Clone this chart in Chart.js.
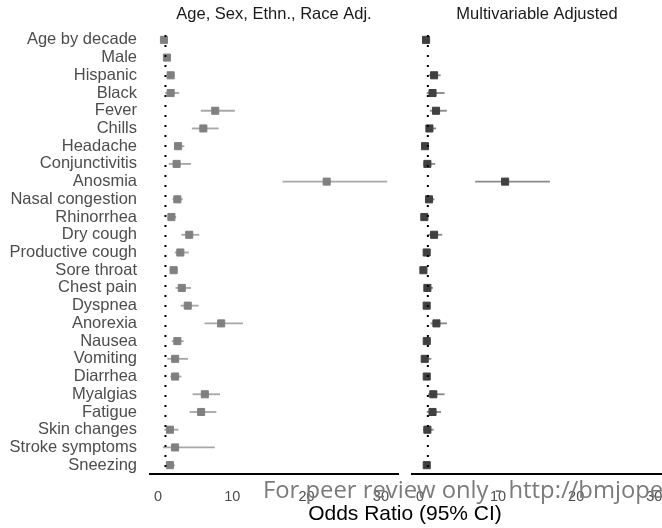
<!DOCTYPE html>
<html>
<head>
<meta charset="utf-8">
<script src="https://cdn.jsdelivr.net/npm/chart.js@4.4.1/dist/chart.umd.min.js"></script>
<style>
    body { margin: 0; background: #fff; }
    #wrap { position: relative; width: 662px; height: 528px; overflow: hidden; font-family: "Liberation Sans", Arial, sans-serif; }
    #left { position: absolute; left: 0; top: 0; }
    #right { position: absolute; left: 400px; top: 0; }
    #xtitle { position: absolute; left: 205px; top: 501px; width: 400px; text-align: center; font-size: 21px; line-height: 24px; color: #000; }
    #mark { position: absolute; left: 263px; top: 473px; white-space: nowrap; font-family: "Open Sans", sans-serif; font-size: 23.8px; line-height: 32px; color: #7b7b7b; }
</style>
</head>
<body>
<div id="wrap">
    <canvas id="left" width="400" height="528"></canvas>
    <canvas id="right" width="262" height="528"></canvas>
    <div id="xtitle">Odds Ratio (95% CI)</div>
    <div id="mark">For peer review only - http://bmjopen.bmj.com/site/about/guidelines.xhtml</div>
</div>
<script>
const symptoms = ['Age by decade', 'Male', 'Hispanic', 'Black', 'Fever', 'Chills', 'Headache',
    'Conjunctivitis', 'Anosmia', 'Nasal congestion', 'Rhinorrhea', 'Dry cough', 'Productive cough',
    'Sore throat', 'Chest pain', 'Dyspnea', 'Anorexia', 'Nausea', 'Vomiting', 'Diarrhea',
    'Myalgias', 'Fatigue', 'Skin changes', 'Stroke symptoms', 'Sneezing'];

// Age, Sex, Ethn., Race adjusted
const demoOR   = [0.8, 1.2, 1.7, 1.7, 7.7, 6.1, 2.7, 2.5, 22.7, 2.6, 1.8, 4.2, 3.0, 2.1, 3.2, 4.0, 8.5, 2.6, 2.3, 2.3, 6.3, 5.8, 1.6, 2.3, 1.6];
const demoLow  = [0.7, 1.0, 1.3, 1.0, 5.8, 4.6, 2.2, 1.5, 16.8, 2.0, 1.4, 3.2, 2.3, 1.6, 2.4, 3.1, 6.3, 1.9, 1.3, 1.7, 4.7, 4.3, 0.9, 0.7, 1.3];
const demoHigh = [0.9, 1.5, 2.2, 2.8, 10.3, 8.1, 3.5, 4.4, 30.8, 3.3, 2.4, 5.5, 4.1, 2.6, 4.4, 5.4, 11.4, 3.4, 4.0, 3.1, 8.3, 7.8, 2.7, 7.6, 2.2];

// Multivariable adjusted (Male and Stroke symptoms not in model)
const multiOR   = [0.77, null, 1.8, 1.6, 2.05, 1.2, 0.64, 0.94, 10.9, 1.15, 0.55, 1.8, 0.85, 0.43, 0.94, 0.85, 2.1, 0.86, 0.6, 0.86, 1.7, 1.6, 0.94, null, 0.86];
const multiLow  = [0.65, null, 1.2, 0.9, 1.3, 0.8, 0.5, 0.45, 7.1, 0.8, 0.4, 1.0, 0.65, 0.3, 0.6, 0.6, 1.4, 0.6, 0.3, 0.6, 1.07, 0.9, 0.43, null, 0.6];
const multiHigh = [0.9, null, 2.6, 3.1, 3.4, 2.0, 0.8, 1.9, 16.6, 1.8, 0.7, 2.8, 1.1, 0.6, 1.6, 1.2, 3.4, 1.2, 1.4, 1.2, 3.1, 2.65, 1.7, null, 1.2];

const xTicks = [0, 10, 20, 30];
const REF_VALUE = 1;

const FONT = '"Liberation Sans", Arial, sans-serif';

// dotted line at OR = 1
const refLine = {
    id: 'refLine',
    afterDatasetsDraw(chart) {
        const { ctx, chartArea } = chart;
        const x = chart.scales.x.getPixelForValue(REF_VALUE);
        ctx.save();
        ctx.strokeStyle = '#000';
        ctx.lineWidth = 2;
        ctx.setLineDash([2, 8]);
        ctx.beginPath();
        ctx.moveTo(x, chartArea.top + 4);
        ctx.lineTo(x, chartArea.bottom);
        ctx.stroke();
        ctx.restore();
    }
};

// strip title centred over the panel
const panelTitle = {
    id: 'panelTitle',
    afterDraw(chart, args, opts) {
        const { ctx, chartArea } = chart;
        ctx.save();
        ctx.font = '16.5px ' + FONT;
        ctx.fillStyle = '#1a1a1a';
        ctx.textAlign = 'center';
        ctx.fillText(opts.text, (chartArea.left + chartArea.right) / 2, 19);
        ctx.restore();
    }
};

function makePanel(id, title, or, low, high, range, pointColor, lineColor, showLabels, padding) {
    const points = [];
    const ci = [];
    symptoms.forEach((s, i) => {
        if (or[i] !== null) points.push({ x: or[i], y: s });
        ci.push(low[i] !== null ? [low[i], high[i]] : null);
    });

    return new Chart(document.getElementById(id), {
        type: 'bar',
        data: {
            labels: symptoms,
            datasets: [{
                type: 'scatter',
                data: points,
                order: 0,
                pointStyle: 'rect',
                pointRadius: 5,
                pointBorderWidth: 1,
                backgroundColor: pointColor,
                borderColor: pointColor
            }, {
                data: ci,
                order: 1,
                barThickness: 1.2,
                backgroundColor: lineColor,
                borderWidth: 0
            }]
        },
        options: {
            indexAxis: 'y',
            responsive: false,
            animation: false,
            layout: { padding: padding, autoPadding: false },
            scales: {
                x: {
                    type: 'linear',
                    min: range[0],
                    max: range[1],
                    grid: { display: false, drawTicks: false },
                    border: { display: true, color: '#000', width: 2 },
                    afterBuildTicks: scale => { scale.ticks = xTicks.map(v => ({ value: v })); },
                    afterFit: scale => {
                        scale.height = 54;
                        scale.paddingLeft = 0;
                        scale.paddingRight = 0;
                    },
                    ticks: {
                        padding: 14,
                        color: '#4d4d4d',
                        font: { family: FONT, size: 14.5 }
                    }
                },
                y: {
                    type: 'category',
                    offset: true,
                    display: showLabels,
                    grid: { display: false, drawTicks: false },
                    border: { display: false },
                    afterFit: scale => {
                        scale.width = showLabels ? 150 : 0;
                        scale.paddingTop = 0;
                        scale.paddingBottom = 0;
                    },
                    ticks: {
                        padding: 13,
                        autoSkip: false,
                        color: '#4d4d4d',
                        font: { family: FONT, size: 16.5 }
                    }
                }
            },
            plugins: {
                legend: { display: false },
                tooltip: { enabled: false },
                panelTitle: { text: title }
            }
        },
        plugins: [refLine, panelTitle]
    });
}

makePanel('left', 'Age, Sex, Ethn., Race Adj.', demoOR, demoLow, demoHigh, [-1.08, 32.3],
    '#808080', '#a8a8a8', true, { top: 31, right: 2, left: 0, bottom: 0 });
makePanel('right', 'Multivariable Adjusted', multiOR, multiLow, multiHigh, [-1.03, 31.0],
    '#404040', '#8a8a8a', false, { top: 31, right: 0, left: 12, bottom: 0 });
</script>
</body>
</html>
